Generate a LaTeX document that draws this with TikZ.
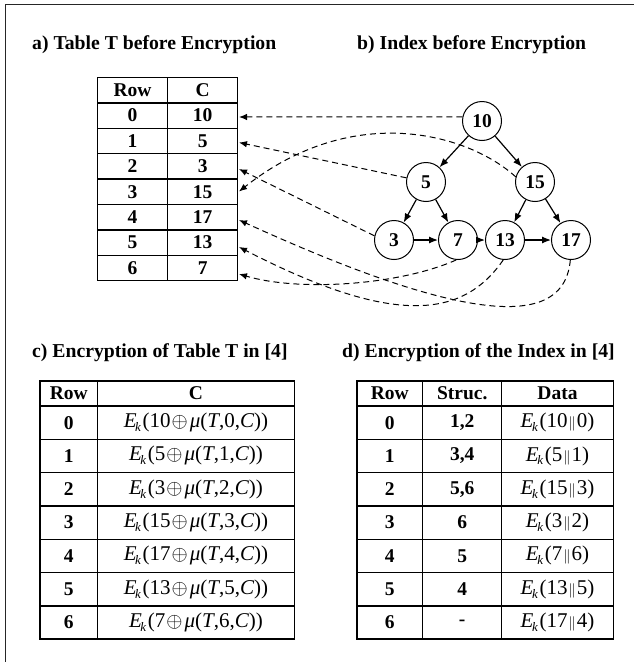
\documentclass[tikz,border=0pt]{standalone}
\usepackage{fontspec}
\setmainfont{Liberation Serif}
\usetikzlibrary{arrows.meta}
\newcommand\Ek{\textit{E}\kern-1.4pt\raisebox{-0.4ex}{\fontsize{13}{13}\selectfont\textit{k}}\kern1.5pt}
\newcommand\encc[2]{\Ek(#1\kern1pt$\oplus$\kern2pt\textit{μ}(\textit{T},#2,\textit{C}))}
\newcommand\encd[2]{\Ek(#1\kern1pt{\fontsize{15}{15}\selectfont$\|$}\kern1pt#2)}
\begin{document}
\begin{tikzpicture}[x=1pt,y=-1pt,
  ttl/.style={anchor=base west,inner sep=0,font=\bfseries\fontsize{19.7}{22}\selectfont},
  cell/.style={draw,line width=1.4pt,inner sep=0,anchor=center},
  bnum/.style={font=\bfseries\fontsize{19.5}{21}\selectfont},
  rnum/.style={font=\fontsize{21}{23}\selectfont},
  tnode/.style={circle,draw,line width=1pt,minimum size=39pt,inner sep=0,font=\bfseries\fontsize{19.5}{21}\selectfont},
  tedge/.style={line width=1.2pt,-{Latex[length=9pt,width=7pt]}},
  lnk/.style={dash pattern=on 6pt off 4pt,line width=1pt,-{Latex[length=8pt,width=6.5pt]}},
]
\useasboundingbox (0,0) rectangle (634,662);
\draw[line width=1pt,black!85] (5,662) -- (5,4.5) -- (634,4.5);
% titles
\node[ttl] (ta) at (32,49) {a) Table T before Encryption};
\node[ttl] (tb) at (357,49) {b) Index before Encryption};
\node[ttl] (tc) at (32,357) {c) Encryption of Table T in [4]};
\node[ttl] (td) at (342,357) {d) Encryption of the Index in [4]};
% table a
\node[cell,bnum,minimum width=70.2pt,minimum height=25.4pt] (a-h-0) at (132.6,90.2) {Row};
\node[cell,bnum,minimum width=70pt,minimum height=25.4pt] (a-h-1) at (202.7,90.2) {C};
\foreach \v [count=\i from 0] in {10,5,3,15,17,13,7}{
  \node[cell,bnum,minimum width=70.2pt,minimum height=25.4pt] (a-\i-0) at (132.6,{115.6+25.4*\i}) {\i};
  \node[cell,bnum,minimum width=70pt,minimum height=25.4pt] (a-\i-1) at (202.7,{115.6+25.4*\i}) {\v};
}
% tree
\node[tnode] (n10) at (482,121) {10};
\node[tnode] (n5) at (426,182) {5};
\node[tnode] (n15) at (535,182) {15};
\node[tnode] (n3) at (394,240) {3};
\node[tnode] (n7) at (458,240) {7};
\node[tnode] (n13) at (505,240) {13};
\node[tnode] (n17) at (571,240) {17};
\foreach \a/\b in {n10/n5,n10/n15,n5/n3,n5/n7,n15/n13,n15/n17,n3/n7,n7/n13,n13/n17}
  \draw[tedge] (\a) -- (\b);
% link targets
\coordinate (p0) at (239,117);
\coordinate (p1) at (239,142.5);
\coordinate (p2) at (239,169);
\coordinate (p3) at (239,191.5);
\coordinate (p4) at (239,220);
\coordinate (p5) at (239,247);
\coordinate (p6) at (239,274);
\draw[lnk] (n10.168) -- (p0);
\draw[lnk] (n5.168) -- (p1);
\draw[lnk] (n3.168) -- (p2);
\draw[lnk] (n15.165) .. controls (470,135) and (355,100) .. (p3);
\draw[lnk] (n7.265) .. controls (400,285) and (300,292) .. (p6);
\draw[lnk] (n13.265) .. controls (465,315) and (400,330) .. (p5);
\draw[lnk] (n17.268) .. controls (565,325) and (480,330) .. (p4);
% table c
\node[cell,bnum,minimum width=57.7pt,minimum height=25pt] (c-h-0) at (68.85,393.5) {Row};
\node[cell,bnum,minimum width=196.6pt,minimum height=25pt] (c-h-1) at (196,393.5) {C};
\foreach \v [count=\i from 0] in {10,5,3,15,17,13,7}{
  \node[cell,bnum,minimum width=57.7pt,minimum height=33.3pt] (c-\i-0) at (68.85,{422.65+33.3*\i}) {\i};
  \node[cell,rnum,minimum width=196.6pt,minimum height=33.3pt] (c-\i-1) at (196,{422.65+33.3*\i}) {\encc{\v}{\i}};
}
% table d
\node[cell,bnum,minimum width=65.7pt,minimum height=25pt] (d-h-0) at (389.85,393.5) {Row};
\node[cell,bnum,minimum width=79pt,minimum height=25pt] (d-h-1) at (462.2,393.5) {Struc.};
\node[cell,bnum,minimum width=111.6pt,minimum height=25pt] (d-h-2) at (557.5,393.5) {Data};
\foreach \s/\a/\b [count=\i from 0] in {{1,2}/10/0,{3,4}/5/1,{5,6}/15/3,6/3/2,5/7/6,4/13/5,-/17/4}{
  \node[cell,bnum,minimum width=65.7pt,minimum height=33.3pt] (d-\i-0) at (389.85,{422.65+33.3*\i}) {\i};
  \node[cell,bnum,minimum width=79pt,minimum height=33.3pt] (d-\i-1) at (462.2,{422.65+33.3*\i}) {\s};
  \node[cell,rnum,minimum width=111.6pt,minimum height=33.3pt] (d-\i-2) at (557.5,{422.65+33.3*\i}) {\encd{\a}{\b}};
}
\end{tikzpicture}
\end{document}
